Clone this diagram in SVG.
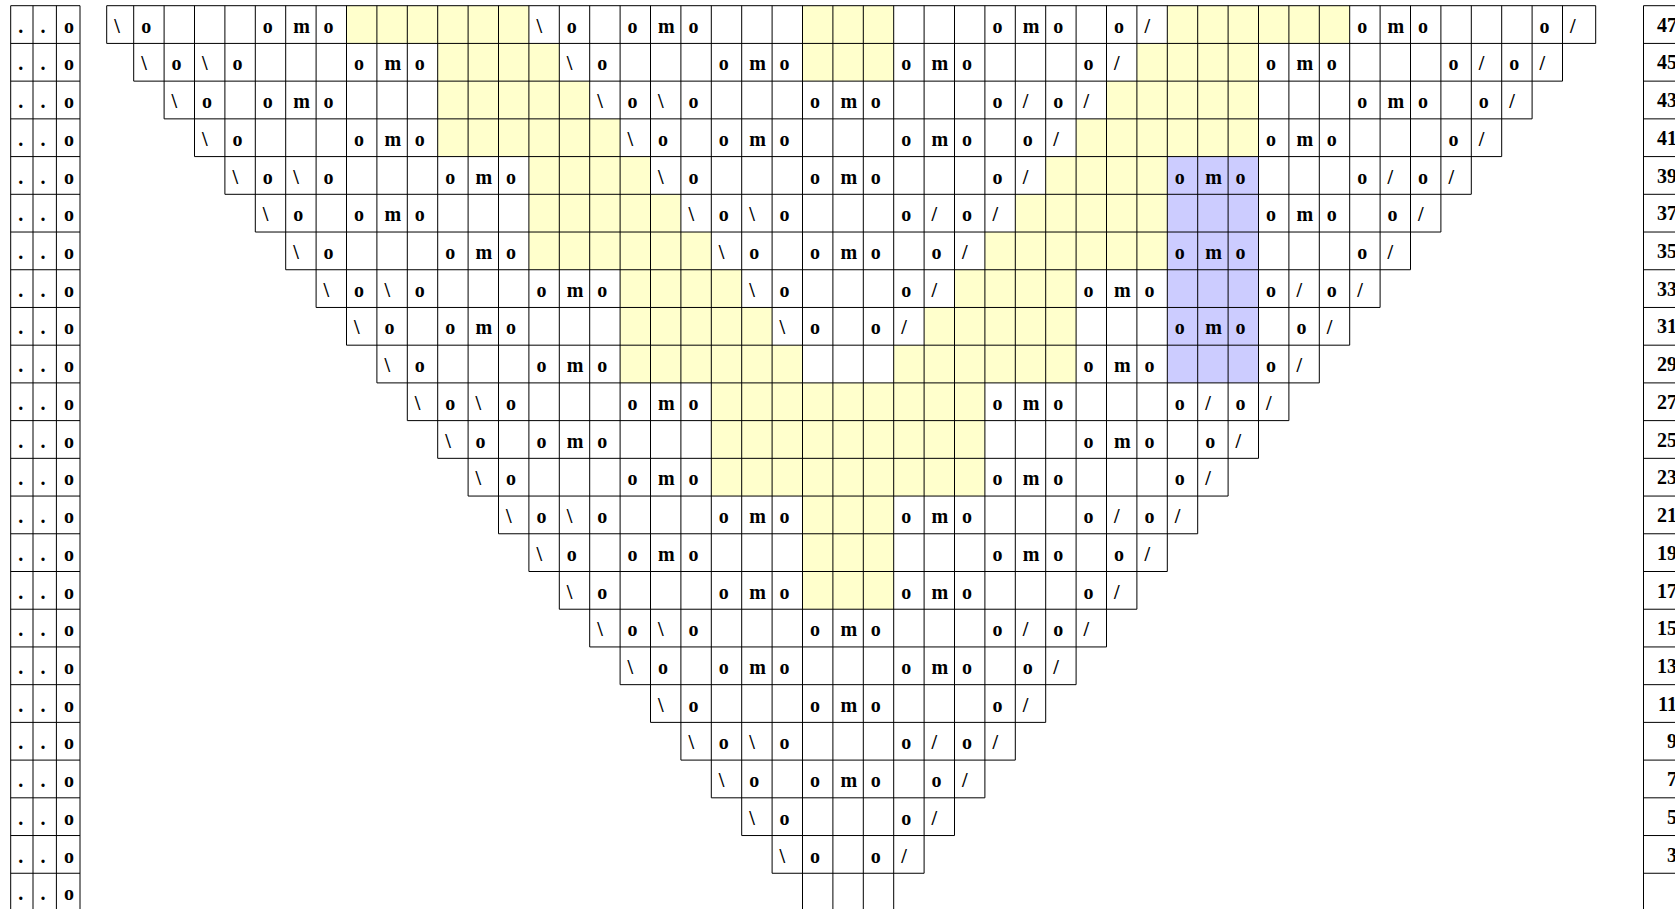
<svg xmlns="http://www.w3.org/2000/svg" width="1675" height="909" viewBox="0 0 1675 909">
<style>
.t{font-family:"Liberation Serif","Times New Roman",serif;font-weight:bold;font-size:20px;fill:#000}
.n{text-anchor:end}
.yl{fill:#FFFFCC}
.bl{fill:#CCCCFF}
.g{fill:none;stroke:#000;stroke-width:1}
</style>
<rect width="1675" height="909" fill="#fff"/>
<g id="fills">
<rect class="yl" x="346.5" y="5.7" width="182.4" height="37.72"/>
<rect class="yl" x="802.5" y="5.7" width="91.2" height="75.44"/>
<rect class="yl" x="1167.3" y="5.7" width="182.4" height="37.72"/>
<rect class="yl" x="437.7" y="43.42" width="121.6" height="37.72"/>
<rect class="yl" x="1136.9" y="43.42" width="121.6" height="37.72"/>
<rect class="yl" x="437.7" y="81.14" width="152" height="37.72"/>
<rect class="yl" x="1106.5" y="81.14" width="152" height="37.72"/>
<rect class="yl" x="437.7" y="118.86" width="182.4" height="37.72"/>
<rect class="yl" x="1076.1" y="118.86" width="182.4" height="37.72"/>
<rect class="yl" x="528.9" y="156.58" width="121.6" height="37.72"/>
<rect class="yl" x="1045.7" y="156.58" width="121.6" height="37.72"/>
<rect class="yl" x="528.9" y="194.3" width="152" height="37.72"/>
<rect class="yl" x="1015.3" y="194.3" width="152" height="37.72"/>
<rect class="yl" x="528.9" y="232.02" width="182.4" height="37.72"/>
<rect class="yl" x="984.9" y="232.02" width="182.4" height="37.72"/>
<rect class="yl" x="620.1" y="269.74" width="121.6" height="37.72"/>
<rect class="yl" x="954.5" y="269.74" width="121.6" height="37.72"/>
<rect class="yl" x="620.1" y="307.46" width="152" height="37.72"/>
<rect class="yl" x="924.1" y="307.46" width="152" height="37.72"/>
<rect class="yl" x="620.1" y="345.18" width="182.4" height="37.72"/>
<rect class="yl" x="893.7" y="345.18" width="182.4" height="37.72"/>
<rect class="yl" x="711.3" y="382.9" width="273.6" height="113.16"/>
<rect class="yl" x="802.5" y="496.06" width="91.2" height="113.16"/>
<rect class="bl" x="1167.3" y="156.58" width="91.2" height="226.32"/>
</g>
<g id="connectors">
<path class="g" d="M106.7 5.7H1595.7M106.7 43.42H1595.7M133.7 81.14H1562.5M164.1 118.86H1532.1M194.5 156.58H1501.7M224.9 194.3H1471.3M255.3 232.02H1440.9M285.7 269.74H1410.5M316.1 307.46H1380.1M346.5 345.18H1349.7M376.9 382.9H1319.3M407.3 420.62H1288.9M437.7 458.34H1258.5M468.1 496.06H1228.1M498.5 533.78H1197.7M528.9 571.5H1167.3M559.3 609.22H1136.9M589.7 646.94H1106.5M620.1 684.66H1076.1M650.5 722.38H1045.7M680.9 760.1H1015.3M711.3 797.82H984.9M741.7 835.54H954.5M772.1 873.26H924.1"/>
<path class="g" d="M106.7 5.7V43.42M133.7 5.7V81.14M164.1 5.7V118.86M194.5 5.7V156.58M224.9 5.7V194.3M255.3 5.7V232.02M285.7 5.7V269.74M316.1 5.7V307.46M346.5 5.7V345.18M376.9 5.7V382.9M407.3 5.7V420.62M437.7 5.7V458.34M468.1 5.7V496.06M498.5 5.7V533.78M528.9 5.7V571.5M559.3 5.7V609.22M589.7 5.7V646.94M620.1 5.7V684.66M650.5 5.7V722.38M680.9 5.7V760.1M711.3 5.7V797.82M741.7 5.7V835.54M772.1 5.7V873.26M802.5 5.7V909M832.9 5.7V909M863.3 5.7V909M893.7 5.7V909M924.1 5.7V873.26M954.5 5.7V835.54M984.9 5.7V797.82M1015.3 5.7V760.1M1045.7 5.7V722.38M1076.1 5.7V684.66M1106.5 5.7V646.94M1136.9 5.7V609.22M1167.3 5.7V571.5M1197.7 5.7V533.78M1228.1 5.7V496.06M1258.5 5.7V458.34M1288.9 5.7V420.62M1319.3 5.7V382.9M1349.7 5.7V345.18M1380.1 5.7V307.46M1410.5 5.7V269.74M1440.9 5.7V232.02M1471.3 5.7V194.3M1501.7 5.7V156.58M1532.1 5.7V118.86M1562.5 5.7V81.14M1595.7 5.7V43.42"/>
<path class="g" d="M10.7 5.7V909M33 5.7V909M56.4 5.7V909M80 5.7V909M10.7 5.7H80M10.7 43.42H80M10.7 81.14H80M10.7 118.86H80M10.7 156.58H80M10.7 194.3H80M10.7 232.02H80M10.7 269.74H80M10.7 307.46H80M10.7 345.18H80M10.7 382.9H80M10.7 420.62H80M10.7 458.34H80M10.7 496.06H80M10.7 533.78H80M10.7 571.5H80M10.7 609.22H80M10.7 646.94H80M10.7 684.66H80M10.7 722.38H80M10.7 760.1H80M10.7 797.82H80M10.7 835.54H80M10.7 873.26H80"/>
<path class="g" d="M1643.5 5.7V909M1643.5 5.7H1675M1643.5 43.42H1675M1643.5 81.14H1675M1643.5 118.86H1675M1643.5 156.58H1675M1643.5 194.3H1675M1643.5 232.02H1675M1643.5 269.74H1675M1643.5 307.46H1675M1643.5 345.18H1675M1643.5 382.9H1675M1643.5 420.62H1675M1643.5 458.34H1675M1643.5 496.06H1675M1643.5 533.78H1675M1643.5 571.5H1675M1643.5 609.22H1675M1643.5 646.94H1675M1643.5 684.66H1675M1643.5 722.38H1675M1643.5 760.1H1675M1643.5 797.82H1675M1643.5 835.54H1675M1643.5 873.26H1675"/>
</g>
<g id="chart" class="t">
<text id="row47" x="114.2 141.2 262.8 293.2 323.6 536.4 566.8 627.6 658 688.4 992.4 1022.8 1053.2 1114 1144.4 1357.2 1387.6 1418 1539.6 1570" y="32.7">\oomo\oomoomoo/omoo/</text>
<text id="row45" x="141.2 171.6 202 232.4 354 384.4 414.8 566.8 597.2 718.8 749.2 779.6 901.2 931.6 962 1083.6 1114 1266 1296.4 1326.8 1448.4 1478.8 1509.2 1539.6" y="70.42">\o\oomo\oomoomoo/omoo/o/</text>
<text id="row43" x="171.6 202 262.8 293.2 323.6 597.2 627.6 658 688.4 810 840.4 870.8 992.4 1022.8 1053.2 1083.6 1357.2 1387.6 1418 1478.8 1509.2" y="108.14">\oomo\o\oomoo/o/omoo/</text>
<text id="row41" x="202 232.4 354 384.4 414.8 627.6 658 718.8 749.2 779.6 901.2 931.6 962 1022.8 1053.2 1266 1296.4 1326.8 1448.4 1478.8" y="145.86">\oomo\oomoomoo/omoo/</text>
<text id="row39" x="232.4 262.8 293.2 323.6 445.2 475.6 506 658 688.4 810 840.4 870.8 992.4 1022.8 1174.8 1205.2 1235.6 1357.2 1387.6 1418 1448.4" y="183.58">\o\oomo\oomoo/omoo/o/</text>
<text id="row37" x="262.8 293.2 354 384.4 414.8 688.4 718.8 749.2 779.6 901.2 931.6 962 992.4 1266 1296.4 1326.8 1387.6 1418" y="221.3">\oomo\o\oo/o/omoo/</text>
<text id="row35" x="293.2 323.6 445.2 475.6 506 718.8 749.2 810 840.4 870.8 931.6 962 1174.8 1205.2 1235.6 1357.2 1387.6" y="259.02">\oomo\oomoo/omoo/</text>
<text id="row33" x="323.6 354 384.4 414.8 536.4 566.8 597.2 749.2 779.6 901.2 931.6 1083.6 1114 1144.4 1266 1296.4 1326.8 1357.2" y="296.74">\o\oomo\oo/omoo/o/</text>
<text id="row31" x="354 384.4 445.2 475.6 506 779.6 810 870.8 901.2 1174.8 1205.2 1235.6 1296.4 1326.8" y="334.46">\oomo\oo/omoo/</text>
<text id="row29" x="384.4 414.8 536.4 566.8 597.2 1083.6 1114 1144.4 1266 1296.4" y="372.18">\oomoomoo/</text>
<text id="row27" x="414.8 445.2 475.6 506 627.6 658 688.4 992.4 1022.8 1053.2 1174.8 1205.2 1235.6 1266" y="409.9">\o\oomoomoo/o/</text>
<text id="row25" x="445.2 475.6 536.4 566.8 597.2 1083.6 1114 1144.4 1205.2 1235.6" y="447.62">\oomoomoo/</text>
<text id="row23" x="475.6 506 627.6 658 688.4 992.4 1022.8 1053.2 1174.8 1205.2" y="485.34">\oomoomoo/</text>
<text id="row21" x="506 536.4 566.8 597.2 718.8 749.2 779.6 901.2 931.6 962 1083.6 1114 1144.4 1174.8" y="523.06">\o\oomoomoo/o/</text>
<text id="row19" x="536.4 566.8 627.6 658 688.4 992.4 1022.8 1053.2 1114 1144.4" y="560.78">\oomoomoo/</text>
<text id="row17" x="566.8 597.2 718.8 749.2 779.6 901.2 931.6 962 1083.6 1114" y="598.5">\oomoomoo/</text>
<text id="row15" x="597.2 627.6 658 688.4 810 840.4 870.8 992.4 1022.8 1053.2 1083.6" y="636.22">\o\oomoo/o/</text>
<text id="row13" x="627.6 658 718.8 749.2 779.6 901.2 931.6 962 1022.8 1053.2" y="673.94">\oomoomoo/</text>
<text id="row11" x="658 688.4 810 840.4 870.8 992.4 1022.8" y="711.66">\oomoo/</text>
<text id="row9" x="688.4 718.8 749.2 779.6 901.2 931.6 962 992.4" y="749.38">\o\oo/o/</text>
<text id="row7" x="718.8 749.2 810 840.4 870.8 931.6 962" y="787.1">\oomoo/</text>
<text id="row5" x="749.2 779.6 901.2 931.6" y="824.82">\oo/</text>
<text id="row3" x="779.6 810 870.8 901.2" y="862.54">\oo/</text>
</g>
<g id="left-column" class="t">
<text x="18.3 40.6 64" y="32.7">..o</text>
<text x="18.3 40.6 64" y="70.42">..o</text>
<text x="18.3 40.6 64" y="108.14">..o</text>
<text x="18.3 40.6 64" y="145.86">..o</text>
<text x="18.3 40.6 64" y="183.58">..o</text>
<text x="18.3 40.6 64" y="221.3">..o</text>
<text x="18.3 40.6 64" y="259.02">..o</text>
<text x="18.3 40.6 64" y="296.74">..o</text>
<text x="18.3 40.6 64" y="334.46">..o</text>
<text x="18.3 40.6 64" y="372.18">..o</text>
<text x="18.3 40.6 64" y="409.9">..o</text>
<text x="18.3 40.6 64" y="447.62">..o</text>
<text x="18.3 40.6 64" y="485.34">..o</text>
<text x="18.3 40.6 64" y="523.06">..o</text>
<text x="18.3 40.6 64" y="560.78">..o</text>
<text x="18.3 40.6 64" y="598.5">..o</text>
<text x="18.3 40.6 64" y="636.22">..o</text>
<text x="18.3 40.6 64" y="673.94">..o</text>
<text x="18.3 40.6 64" y="711.66">..o</text>
<text x="18.3 40.6 64" y="749.38">..o</text>
<text x="18.3 40.6 64" y="787.1">..o</text>
<text x="18.3 40.6 64" y="824.82">..o</text>
<text x="18.3 40.6 64" y="862.54">..o</text>
<text x="18.3 40.6 64" y="900.26">..o</text>
</g>
<g id="row-numbers" class="t n">
<text x="1677" y="31.7">47</text>
<text x="1677" y="69.42">45</text>
<text x="1677" y="107.14">43</text>
<text x="1677" y="144.86">41</text>
<text x="1677" y="182.58">39</text>
<text x="1677" y="220.3">37</text>
<text x="1677" y="258.02">35</text>
<text x="1677" y="295.74">33</text>
<text x="1677" y="333.46">31</text>
<text x="1677" y="371.18">29</text>
<text x="1677" y="408.9">27</text>
<text x="1677" y="446.62">25</text>
<text x="1677" y="484.34">23</text>
<text x="1677" y="522.06">21</text>
<text x="1677" y="559.78">19</text>
<text x="1677" y="597.5">17</text>
<text x="1677" y="635.22">15</text>
<text x="1677" y="672.94">13</text>
<text x="1677" y="710.66">11</text>
<text x="1677" y="748.38">9</text>
<text x="1677" y="786.1">7</text>
<text x="1677" y="823.82">5</text>
<text x="1677" y="861.54">3</text>
</g>
</svg>
